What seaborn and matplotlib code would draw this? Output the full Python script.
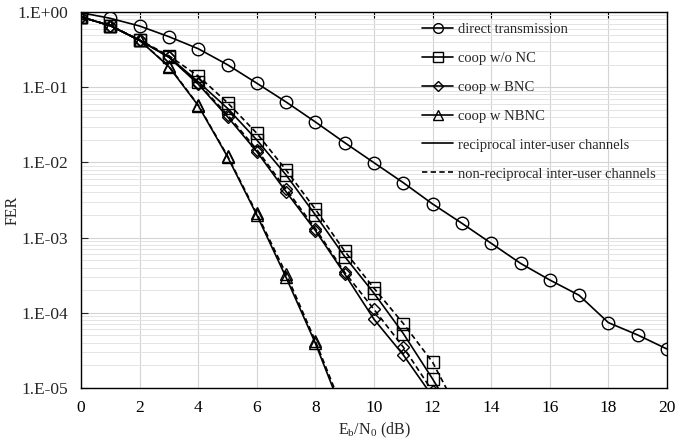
import numpy as np
import pandas as pd
import seaborn as sns
import matplotlib
matplotlib.use("Agg")
import matplotlib.pyplot as plt
from matplotlib.lines import Line2D
from matplotlib.ticker import LogLocator, FuncFormatter, NullFormatter

# Eb/N0 grid (dB)
snr_direct = list(range(0, 21))
snr_nc = list(range(0, 14))
snr_bnc = list(range(0, 13))
snr_nbnc = list(range(0, 10))

# Frame error rates
fer_direct = [0.98, 0.824, 0.651, 0.47, 0.325, 0.199, 0.113, 0.0636, 0.0345, 0.0183,
              0.0099, 0.00537, 0.0028, 0.00155, 0.00084, 0.000455, 0.000273,
              0.000171, 7.4e-5, 5.07e-5, 3.3e-5]

fer_nc_rec = [0.86, 0.657, 0.42, 0.254, 0.118, 0.0524, 0.0199, 0.0068, 0.0020,
              0.00056, 0.000182, 5.3e-5, 1.32e-5, 3.0e-6]
fer_nc_nonrec = [0.86, 0.66, 0.425, 0.262, 0.141, 0.0622, 0.0244, 0.0079, 0.00238,
                 0.00066, 0.000212, 7.2e-5, 2.2e-5, 4.0e-6]

fer_bnc_rec = [0.86, 0.657, 0.42, 0.25, 0.110, 0.0405, 0.0139, 0.00407, 0.00124,
               0.000328, 8.2e-5, 2.75e-5, 7.7e-6]
fer_bnc_nonrec = [0.86, 0.66, 0.42, 0.252, 0.112, 0.043, 0.0148, 0.0044, 0.00132,
                  0.000345, 0.000111, 3.5e-5, 9.0e-6]

fer_nbnc_rec = [0.86, 0.657, 0.42, 0.187, 0.057, 0.0119, 0.0020, 0.000295, 3.93e-5, 4.0e-6]
fer_nbnc_nonrec = [0.86, 0.66, 0.42, 0.19, 0.058, 0.0122, 0.0021, 0.00033, 4.2e-5, 4.5e-6]

legend_labels = ["direct transmission", "coop w/o NC", "coop w BNC", "coop w NBNC",
                 "reciprocal inter-user channels", "non-reciprocal inter-user channels"]
y_tick_labels = ["1.E+00", "1.E-01", "1.E-02", "1.E-03", "1.E-04", "1.E-05"]

sns.set_style("ticks")
plt.rcParams["font.family"] = ["Liberation Serif", "DejaVu Serif"]
plt.rcParams["mathtext.fontset"] = "custom"
plt.rcParams["mathtext.rm"] = "Liberation Serif"
plt.rcParams["mathtext.it"] = "Liberation Serif:italic"

fig = plt.figure(figsize=(6.86, 4.41), dpi=100)
ax = fig.add_axes([81 / 686, 1 - 388 / 441, 586 / 686, 376 / 441])

dash = (0, (3.2, 2.0))
common = dict(color="black", lw=1.2, mfc="none", mec="black", mew=1.0, ax=ax,
              legend=False)

series = [
    (snr_direct, fer_direct, "o", 9, "-"),
    (snr_nc, fer_nc_nonrec, "s", 9, dash),
    (snr_nc, fer_nc_rec, "s", 9, "-"),
    (snr_bnc, fer_bnc_nonrec, "D", 6.5, dash),
    (snr_bnc, fer_bnc_rec, "D", 6.5, "-"),
    (snr_nbnc, fer_nbnc_nonrec, "^", 8.5, dash),
    (snr_nbnc, fer_nbnc_rec, "^", 8.5, "-"),
]
for xs, ys, mk, ms, ls in series:
    df = pd.DataFrame({"snr": xs, "fer": ys})
    sns.lineplot(data=df, x="snr", y="fer", marker=mk, ms=ms, linestyle=ls, **common)

ax.set_yscale("log")
ax.set_xlim(0, 20)
ax.set_ylim(1e-5, 1)
ax.set_xticks(np.arange(0, 21, 2))
ax.yaxis.set_major_locator(LogLocator(base=10, numticks=10))
ax.yaxis.set_minor_locator(LogLocator(base=10, subs=np.arange(2, 10), numticks=20))
ax.yaxis.set_major_formatter(FuncFormatter(
    lambda v, p: y_tick_labels[int(round(-np.log10(v)))] if 1e-5 * 0.99 <= v <= 1.01 else ""))
ax.yaxis.set_minor_formatter(NullFormatter())

ax.grid(True, which="major", axis="both", color="#d4d4d4", lw=0.8)
ax.grid(True, which="minor", axis="y", color="#e4e4e4", lw=0.7)
ax.set_axisbelow(True)

ax.tick_params(axis="x", which="major", top=True, bottom=False, labeltop=False,
               labelbottom=True, direction="in", length=4, width=0.8, pad=9,
               labelsize=12.5, colors="black")
ax.tick_params(axis="y", which="major", left=True, right=False, direction="in",
               length=5, width=0.8, pad=9, labelsize=12.5)
ax.tick_params(axis="y", which="minor", left=False, right=False)

for s in ax.spines.values():
    s.set_color("black")
    s.set_linewidth(1.0)

ax.set_xlabel(r"E$_\mathregular{b}$/N$_\mathregular{0}$ (dB)", fontsize=11.5)
ax.xaxis.set_label_coords((374 - 81) / 586, -(421 - 388) / 376)
ax.set_ylabel("FER", fontsize=11.5)
ax.yaxis.set_label_coords(-(81 - 21) / 586, (388 - 210) / 376)

handles = [
    Line2D([], [], color="black", lw=1.2, marker="o", ms=7, mfc="none", mec="black"),
    Line2D([], [], color="black", lw=1.2, marker="s", ms=7, mfc="none", mec="black"),
    Line2D([], [], color="black", lw=1.2, marker="D", ms=5.5, mfc="none", mec="black"),
    Line2D([], [], color="black", lw=1.2, marker="^", ms=7, mfc="none", mec="black"),
    Line2D([], [], color="black", lw=1.2, linestyle="-"),
    Line2D([], [], color="black", lw=1.2, linestyle=dash),
]
ax.legend(handles, legend_labels, loc="upper left",
          bbox_to_anchor=((422 - 81) / 586, 0.972), frameon=False, fontsize=10.5,
          borderpad=0, borderaxespad=0, handlelength=2.15, handletextpad=0.3,
          labelspacing=1.08)

fig.savefig("out.png", dpi=100)
